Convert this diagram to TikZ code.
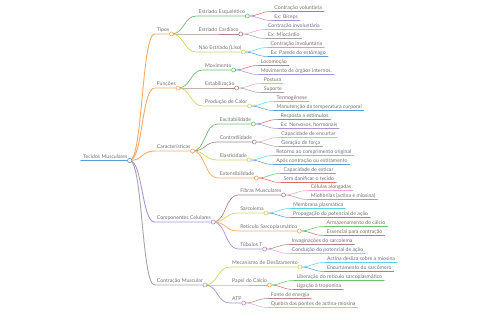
\documentclass[tikz,border=0pt]{standalone}
\usepackage{fontspec}
\setmainfont{Lato}
\usepackage{tikz}
\usetikzlibrary{calc}
\definecolor{azul}{HTML}{5B9BD0}
\definecolor{laranja}{HTML}{FFA862}
\definecolor{verde}{HTML}{6CC06C}
\definecolor{vermelho}{HTML}{E26A6B}
\definecolor{roxo}{HTML}{AE93D3}
\definecolor{marrom}{HTML}{A98984}
\definecolor{rosa}{HTML}{EEA6D9}
\definecolor{cinza}{HTML}{A5A5A5}
\definecolor{oliva}{HTML}{D3D466}
\definecolor{ciano}{HTML}{5DD4E0}
\tikzset{
    rotulo/.style={
        anchor=south west,
        inner xsep=2pt,
        inner ysep=0.8pt,
        text height=3.8pt,
        text depth=1.1pt,
        text=black!55,
        font=\fontsize{5.2}{6}\selectfont
    },
    galho/.style={
        line cap=round,
        to path={.. controls +(13,0) and +(-13,0) .. (\tikztotarget) \tikztonodes}
    },
    nivelA/.style={galho, line width=0.9pt},
    nivelB/.style={galho, line width=0.7pt},
    nivelC/.style={galho, line width=0.55pt},
    juncao/.style={fill=white, line width=0.6pt}
}

\begin{document}
\begin{tikzpicture}[x=1pt, y=-1pt]
        \useasboundingbox (0,0) rectangle (480,320);
        % raiz
        \node[rotulo] (raiz) at (81,160.5) {Tecidos Musculares};
        \draw[azul, line width=1.2pt, line cap=round] (raiz.south west) -- (raiz.south east);
        % primeiro nivel
        \node[rotulo] (tipos) at ($(raiz.south east)+(25,-126.5)$) {Tipos};
        \node[rotulo] (funcoes) at ($(raiz.south east)+(25,-72.5)$) {Funções};
        \node[rotulo] (caract) at ($(raiz.south east)+(25,-9.5)$) {Características};
        \node[rotulo] (compon) at ($(raiz.south east)+(25,61.5)$) {Componentes Celulares};
        \node[rotulo] (contr) at ($(raiz.south east)+(25,124.5)$) {Contração Muscular};
        \draw[nivelA, laranja] (raiz.south east) to (tipos.south west) -- (tipos.south east);
        \draw[nivelA, laranja] (raiz.south east) to (funcoes.south west) -- (funcoes.south east);
        \draw[nivelA, laranja] (raiz.south east) to (caract.south west) -- (caract.south east);
        \draw[nivelA, roxo] (raiz.south east) to (compon.south west) -- (compon.south east);
        \draw[nivelA, cinza] (raiz.south east) to (contr.south west) -- (contr.south east);
        % tipos
        \node[rotulo] (esq) at ($(tipos.south east)+(25,-18)$) {Estriado Esquelético};
        \node[rotulo] (card) at ($(tipos.south east)+(25,0)$) {Estriado Cardíaco};
        \node[rotulo] (liso) at ($(tipos.south east)+(25,18)$) {Não Estriado (Liso)};
        \draw[nivelB, verde] (tipos.south east) to (esq.south west) -- (esq.south east);
        \draw[nivelB, marrom] (tipos.south east) to (card.south west) -- (card.south east);
        \draw[nivelB, oliva] (tipos.south east) to (liso.south west) -- (liso.south east);
        \node[rotulo] (esqa) at ($(esq.south east)+(25,-4.5)$) {Contração voluntária};
        \node[rotulo] (esqb) at ($(esq.south east)+(25,4.5)$) {Ex: Bíceps};
        \node[rotulo] (carda) at ($(card.south east)+(25,-4.5)$) {Contração involuntária};
        \node[rotulo] (cardb) at ($(card.south east)+(25,4.5)$) {Ex: Miocárdio};
        \node[rotulo] (lisoa) at ($(liso.south east)+(25,-4.5)$) {Contração involuntária};
        \node[rotulo] (lisob) at ($(liso.south east)+(25,4.5)$) {Ex: Parede do estômago};
        \draw[nivelC, vermelho] (esq.south east) to (esqa.south west) -- (esqa.south east);
        \draw[nivelC, roxo] (esq.south east) to (esqb.south west) -- (esqb.south east);
        \draw[nivelC, rosa] (card.south east) to (carda.south west) -- (carda.south east);
        \draw[nivelC, cinza] (card.south east) to (cardb.south west) -- (cardb.south east);
        \draw[nivelC, ciano] (liso.south east) to (lisoa.south west) -- (lisoa.south east);
        \draw[nivelC, azul] (liso.south east) to (lisob.south west) -- (lisob.south east);
        % funcoes
        \node[rotulo] (movim) at ($(funcoes.south east)+(25,-18)$) {Movimento};
        \node[rotulo] (estab) at ($(funcoes.south east)+(25,0)$) {Estabilização};
        \node[rotulo] (calor) at ($(funcoes.south east)+(25,18)$) {Produção de Calor};
        \draw[nivelB, verde] (funcoes.south east) to (movim.south west) -- (movim.south east);
        \draw[nivelB, marrom] (funcoes.south east) to (estab.south west) -- (estab.south east);
        \draw[nivelB, oliva] (funcoes.south east) to (calor.south west) -- (calor.south east);
        \node[rotulo] (movima) at ($(movim.south east)+(25,-4.5)$) {Locomoção};
        \node[rotulo] (movimb) at ($(movim.south east)+(25,4.5)$) {Movimento de órgãos internos.};
        \node[rotulo] (estaba) at ($(estab.south east)+(25,-4.5)$) {Postura};
        \node[rotulo] (estabb) at ($(estab.south east)+(25,4.5)$) {Suporte};
        \node[rotulo] (calora) at ($(calor.south east)+(25,-4.5)$) {Termogênese};
        \node[rotulo] (calorb) at ($(calor.south east)+(25,4.5)$) {Manutenção da temperatura corporal};
        \draw[nivelC, vermelho] (movim.south east) to (movima.south west) -- (movima.south east);
        \draw[nivelC, roxo] (movim.south east) to (movimb.south west) -- (movimb.south east);
        \draw[nivelC, rosa] (estab.south east) to (estaba.south west) -- (estaba.south east);
        \draw[nivelC, cinza] (estab.south east) to (estabb.south west) -- (estabb.south east);
        \draw[nivelC, ciano] (calor.south east) to (calora.south west) -- (calora.south east);
        \draw[nivelC, azul] (calor.south east) to (calorb.south west) -- (calorb.south east);
        % caracteristicas
        \node[rotulo] (excit) at ($(caract.south east)+(25,-27)$) {Excitabilidade};
        \node[rotulo] (contrat) at ($(caract.south east)+(25,-9)$) {Contratilidade};
        \node[rotulo] (elast) at ($(caract.south east)+(25,9)$) {Elasticidade};
        \node[rotulo] (extens) at ($(caract.south east)+(25,27)$) {Extensibilidade};
        \draw[nivelB, verde] (caract.south east) to (excit.south west) -- (excit.south east);
        \draw[nivelB, marrom] (caract.south east) to (contrat.south west) -- (contrat.south east);
        \draw[nivelB, oliva] (caract.south east) to (elast.south west) -- (elast.south east);
        \draw[nivelB, laranja] (caract.south east) to (extens.south west) -- (extens.south east);
        \node[rotulo] (excita) at ($(excit.south east)+(25,-4.5)$) {Resposta a estímulos};
        \node[rotulo] (excitb) at ($(excit.south east)+(25,4.5)$) {Ex: Nervosos, hormonais};
        \node[rotulo] (contrata) at ($(contrat.south east)+(25,-4.5)$) {Capacidade de encurtar};
        \node[rotulo] (contratb) at ($(contrat.south east)+(25,4.5)$) {Geração de força};
        \node[rotulo] (elasta) at ($(elast.south east)+(25,-4.5)$) {Retorno ao comprimento original};
        \node[rotulo] (elastb) at ($(elast.south east)+(25,4.5)$) {Após contração ou estiramento};
        \node[rotulo] (extensa) at ($(extens.south east)+(25,-4.5)$) {Capacidade de esticar};
        \node[rotulo] (extensb) at ($(extens.south east)+(25,4.5)$) {Sem danificar o tecido};
        \draw[nivelC, vermelho] (excit.south east) to (excita.south west) -- (excita.south east);
        \draw[nivelC, roxo] (excit.south east) to (excitb.south west) -- (excitb.south east);
        \draw[nivelC, rosa] (contrat.south east) to (contrata.south west) -- (contrata.south east);
        \draw[nivelC, cinza] (contrat.south east) to (contratb.south west) -- (contratb.south east);
        \draw[nivelC, ciano] (elast.south east) to (elasta.south west) -- (elasta.south east);
        \draw[nivelC, azul] (elast.south east) to (elastb.south west) -- (elastb.south east);
        \draw[nivelC, verde] (extens.south east) to (extensa.south west) -- (extensa.south east);
        \draw[nivelC, vermelho] (extens.south east) to (extensb.south west) -- (extensb.south east);
        % componentes celulares
        \node[rotulo] (fibras) at ($(compon.south east)+(25,-27)$) {Fibras Musculares};
        \node[rotulo] (sarcol) at ($(compon.south east)+(25,-9)$) {Sarcolema};
        \node[rotulo] (retic) at ($(compon.south east)+(25,9)$) {Retículo Sarcoplasmático};
        \node[rotulo] (tubul) at ($(compon.south east)+(25,27)$) {Túbulos T};
        \draw[nivelB, marrom] (compon.south east) to (fibras.south west) -- (fibras.south east);
        \draw[nivelB, oliva] (compon.south east) to (sarcol.south west) -- (sarcol.south east);
        \draw[nivelB, laranja] (compon.south east) to (retic.south west) -- (retic.south east);
        \draw[nivelB, roxo] (compon.south east) to (tubul.south west) -- (tubul.south east);
        \node[rotulo] (fibrasa) at ($(fibras.south east)+(25,-4.5)$) {Células alongadas};
        \node[rotulo] (fibrasb) at ($(fibras.south east)+(25,4.5)$) {Miofibrilas (actina e miosina)};
        \node[rotulo] (sarcola) at ($(sarcol.south east)+(25,-4.5)$) {Membrana plasmática};
        \node[rotulo] (sarcolb) at ($(sarcol.south east)+(25,4.5)$) {Propagação do potencial de ação};
        \node[rotulo] (retica) at ($(retic.south east)+(25,-4.5)$) {Armazenamento de cálcio};
        \node[rotulo] (reticb) at ($(retic.south east)+(25,4.5)$) {Essencial para contração};
        \node[rotulo] (tubula) at ($(tubul.south east)+(25,-4.5)$) {Invaginações do sarcolema};
        \node[rotulo] (tubulb) at ($(tubul.south east)+(25,4.5)$) {Condução do potencial de ação};
        \draw[nivelC, rosa] (fibras.south east) to (fibrasa.south west) -- (fibrasa.south east);
        \draw[nivelC, cinza] (fibras.south east) to (fibrasb.south west) -- (fibrasb.south east);
        \draw[nivelC, ciano] (sarcol.south east) to (sarcola.south west) -- (sarcola.south east);
        \draw[nivelC, azul] (sarcol.south east) to (sarcolb.south west) -- (sarcolb.south east);
        \draw[nivelC, verde] (retic.south east) to (retica.south west) -- (retica.south east);
        \draw[nivelC, vermelho] (retic.south east) to (reticb.south west) -- (reticb.south east);
        \draw[nivelC, marrom] (tubul.south east) to (tubula.south west) -- (tubula.south east);
        \draw[nivelC, rosa] (tubul.south east) to (tubulb.south west) -- (tubulb.south east);
        % contracao muscular
        \node[rotulo] (mecan) at ($(contr.south east)+(25,-18)$) {Mecanismo de Deslizamento};
        \node[rotulo] (calcio) at ($(contr.south east)+(25,0)$) {Papel do Cálcio};
        \node[rotulo] (atp) at ($(contr.south east)+(25,18)$) {ATP};
        \draw[nivelB, oliva] (contr.south east) to (mecan.south west) -- (mecan.south east);
        \draw[nivelB, laranja] (contr.south east) to (calcio.south west) -- (calcio.south east);
        \draw[nivelB, roxo] (contr.south east) to (atp.south west) -- (atp.south east);
        \node[rotulo] (mecana) at ($(mecan.south east)+(25,-4.5)$) {Actina desliza sobre a miosina};
        \node[rotulo] (mecanb) at ($(mecan.south east)+(25,4.5)$) {Encurtamento do sarcômero};
        \node[rotulo] (calcioa) at ($(calcio.south east)+(25,-4.5)$) {Liberação do retículo sarcoplasmático};
        \node[rotulo] (calciob) at ($(calcio.south east)+(25,4.5)$) {Ligação à troponina};
        \node[rotulo] (atpa) at ($(atp.south east)+(25,-4.5)$) {Fonte de energia};
        \node[rotulo] (atpb) at ($(atp.south east)+(25,4.5)$) {Quebra das pontes de actina-miosina};
        \draw[nivelC, ciano] (mecan.south east) to (mecana.south west) -- (mecana.south east);
        \draw[nivelC, azul] (mecan.south east) to (mecanb.south west) -- (mecanb.south east);
        \draw[nivelC, verde] (calcio.south east) to (calcioa.south west) -- (calcioa.south east);
        \draw[nivelC, vermelho] (calcio.south east) to (calciob.south west) -- (calciob.south east);
        \draw[nivelC, marrom] (atp.south east) to (atpa.south west) -- (atpa.south east);
        \draw[nivelC, rosa] (atp.south east) to (atpb.south west) -- (atpb.south east);
        % juncoes
        \draw[juncao, draw=azul] (raiz.south east) circle (2.2pt);
        \draw[juncao, draw=laranja] (tipos.south east) circle (2pt);
        \draw[juncao, draw=laranja] (funcoes.south east) circle (2pt);
        \draw[juncao, draw=laranja] (caract.south east) circle (2pt);
        \draw[juncao, draw=roxo] (compon.south east) circle (2pt);
        \draw[juncao, draw=cinza] (contr.south east) circle (2pt);
        \draw[juncao, draw=verde] (esq.south east) circle (2pt);
        \draw[juncao, draw=marrom] (card.south east) circle (2pt);
        \draw[juncao, draw=oliva] (liso.south east) circle (2pt);
        \draw[juncao, draw=verde] (movim.south east) circle (2pt);
        \draw[juncao, draw=marrom] (estab.south east) circle (2pt);
        \draw[juncao, draw=oliva] (calor.south east) circle (2pt);
        \draw[juncao, draw=verde] (excit.south east) circle (2pt);
        \draw[juncao, draw=marrom] (contrat.south east) circle (2pt);
        \draw[juncao, draw=oliva] (elast.south east) circle (2pt);
        \draw[juncao, draw=laranja] (extens.south east) circle (2pt);
        \draw[juncao, draw=marrom] (fibras.south east) circle (2pt);
        \draw[juncao, draw=oliva] (sarcol.south east) circle (2pt);
        \draw[juncao, draw=laranja] (retic.south east) circle (2pt);
        \draw[juncao, draw=roxo] (tubul.south east) circle (2pt);
        \draw[juncao, draw=oliva] (mecan.south east) circle (2pt);
        \draw[juncao, draw=laranja] (calcio.south east) circle (2pt);
        \draw[juncao, draw=roxo] (atp.south east) circle (2pt);
    \end{tikzpicture}
\end{document}
